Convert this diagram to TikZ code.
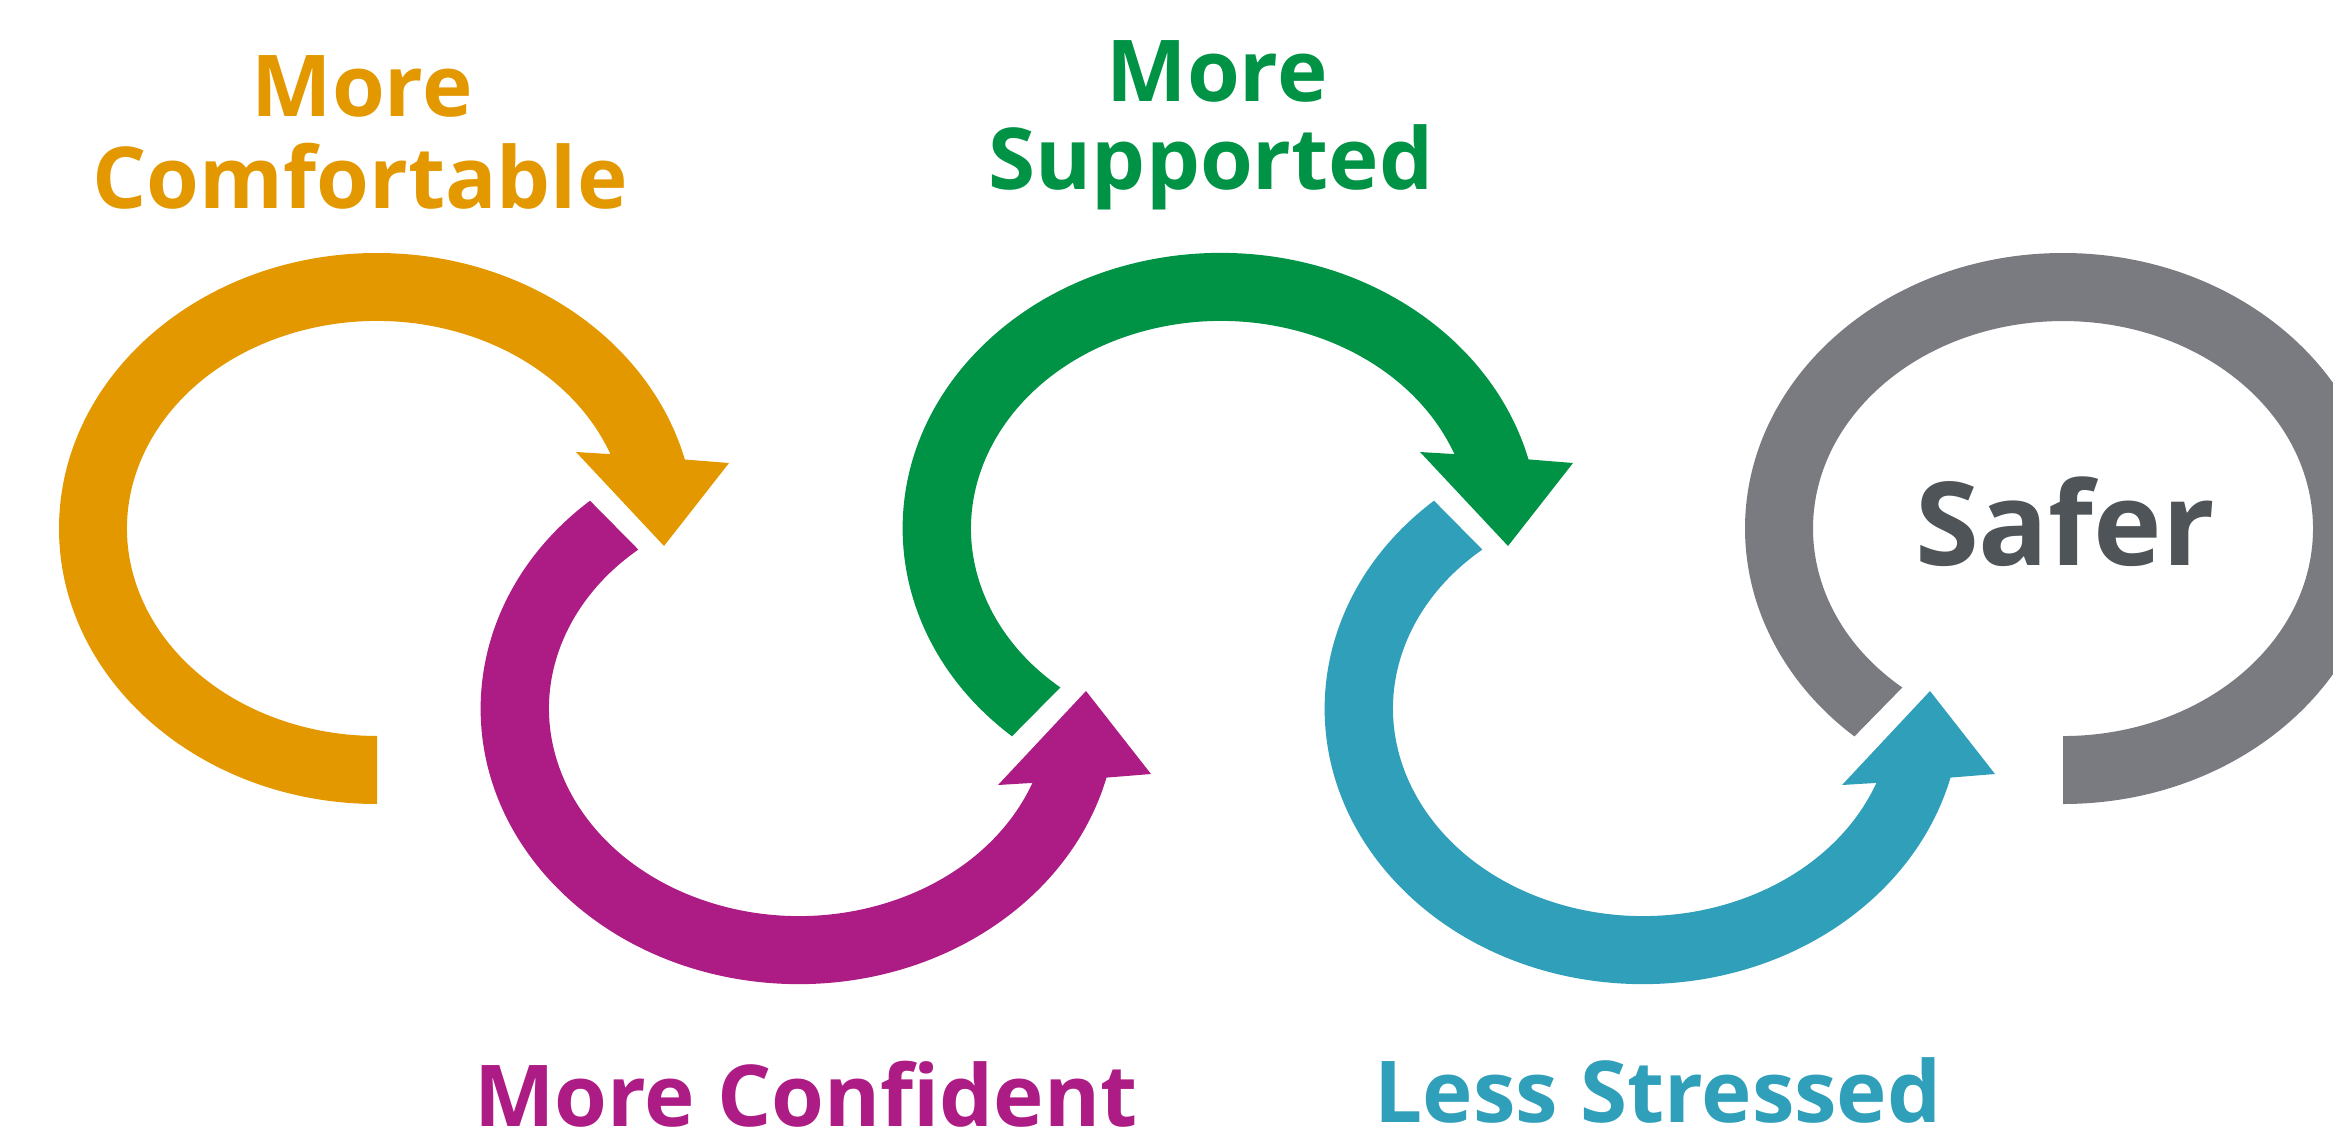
\documentclass[tikz,border=0pt]{standalone}
\usepackage{fontspec}
\setmainfont{Open Sans}
\usepackage{tikz}
\usetikzlibrary{positioning}

\definecolor{ringorange}{RGB}{227,152,0}
\definecolor{ringmagenta}{RGB}{172,28,132}
\definecolor{ringgreen}{RGB}{0,146,69}
\definecolor{ringteal}{RGB}{47,159,186}
\definecolor{ringgray}{RGB}{122,123,128}
\definecolor{safergray}{RGB}{79,84,88}

\tikzset{
  lbl/.style={anchor=base, inner sep=0pt, font=\fontsize{24.3pt}{29pt}\selectfont\bfseries},
  biglbl/.style={anchor=base, inner sep=0pt, font=\fontsize{33pt}{40pt}\selectfont\bfseries},
}

\begin{document}
\begin{tikzpicture}
\useasboundingbox (0,0) rectangle (23.33,11.42);
\clip (0,0) rectangle (23.33,11.42);

% orange loop, arrow into the magenta one
\fill[ringorange] (3.77,3.38) arc [start angle=270, end angle=14.5, x radius=3.18cm, y radius=2.755cm]
  -- (7.29,6.79) -- (6.64,5.96) -- (5.76,6.90) -- (6.104,6.879)
  arc [start angle=21, end angle=270, x radius=2.5cm, y radius=2.075cm] -- cycle;
% magenta loop
\fill[ringmagenta] (5.900,6.413) arc [start angle=131, end angle=345.5, x radius=3.18cm, y radius=2.755cm]
  -- (11.51,3.68) -- (10.86,4.51) -- (9.98,3.57) -- (10.324,3.591)
  arc [start angle=339, end angle=130, x radius=2.5cm, y radius=2.075cm] -- cycle;
% green loop
\fill[ringgreen] (10.120,4.057) arc [start angle=229, end angle=14.5, x radius=3.18cm, y radius=2.755cm]
  -- (15.73,6.79) -- (15.08,5.96) -- (14.20,6.90) -- (14.544,6.879)
  arc [start angle=21, end angle=230, x radius=2.5cm, y radius=2.075cm] -- cycle;
% teal loop
\fill[ringteal] (14.340,6.413) arc [start angle=131, end angle=345.5, x radius=3.18cm, y radius=2.755cm]
  -- (19.95,3.68) -- (19.30,4.51) -- (18.42,3.57) -- (18.764,3.591)
  arc [start angle=339, end angle=130, x radius=2.5cm, y radius=2.075cm] -- cycle;
% gray loop, no head
\fill[ringgray] (20.63,3.38) arc [start angle=270, end angle=589, x radius=3.18cm, y radius=2.755cm]
  -- (19.023,4.545)
  arc [start angle=590, end angle=270, x radius=2.5cm, y radius=2.075cm] -- cycle;

\node[lbl, ringorange] (comf1) at (3.62,10.26) {More};
\node[lbl, ringorange] (comf2) at (3.60,9.34) {Comfortable};
\node[lbl, ringgreen] (supp1) at (12.17,10.41) {More};
\node[lbl, ringgreen] (supp2) at (12.11,9.52) {Supported};
\node[lbl, ringmagenta, text depth=0pt] (conf) at (8.06,0.16) {More Confident};
\node[lbl, ringteal, text depth=0pt] (stress) at (16.58,0.2) {Less Stressed};
\node[biglbl, safergray] (safer) at (20.65,5.77) {Safer};
\end{tikzpicture}
\end{document}
